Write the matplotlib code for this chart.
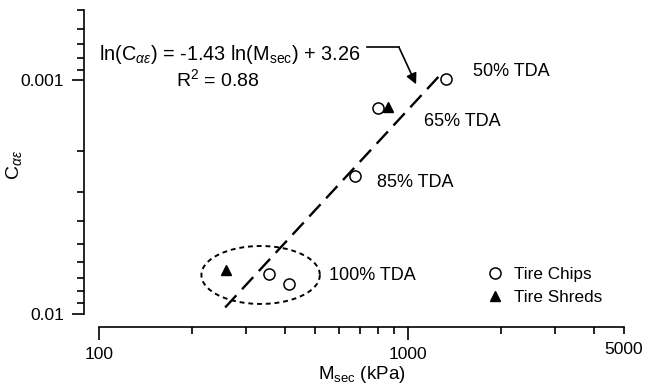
import numpy as np
import matplotlib.pyplot as plt
from matplotlib.ticker import FixedLocator, NullFormatter, FixedFormatter

plt.rcParams['font.family'] = ['Liberation Sans', 'DejaVu Sans']
plt.rcParams['mathtext.fontset'] = 'custom'
plt.rcParams['mathtext.rm'] = 'Liberation Sans'
plt.rcParams['mathtext.it'] = 'Liberation Sans:italic'
plt.rcParams['font.size'] = 12

# data
chipsM = [1330, 800, 673, 356, 411]
chipsC = [0.00099, 0.00131, 0.00256, 0.00673, 0.00743]
shredsM = [861, 258]
shredsC = [0.0013, 0.00647]

# fitted line ln(C) = slope*ln(M) + intercept
fitSlope = -1.43
fitIntercept = 3.26
fitRange = [256, 1300]

tdaLabels = ['50% TDA', '65% TDA', '85% TDA', '100% TDA']
tdaM = [1626, 1127, 793, 554]
tdaC = [0.000915, 0.0015, 0.00274, 0.00687]

fig = plt.figure(figsize=(6.46, 3.91), dpi=100)
ax = fig.add_axes([99/646, 1-314/391, 525/646, 304/391])

ax.set_xscale('log')
ax.set_yscale('log')
ax.set_xlim(100, 5000)
ax.set_ylim(0.01, 0.0005)  # inverted

#fit line
fitX = np.array(fitRange, dtype=float)
fitY = np.exp(fitSlope*np.log(fitX) + fitIntercept)
ax.plot(fitX, fitY, color='black', lw=1.7, dashes=(7, 3.5))

#points
ax.plot(chipsM, chipsC, 'o', mfc='white', mec='black', ms=8, mew=1.1, label='Tire Chips', ls='none')
ax.plot(shredsM, shredsC, '^', color='black', ms=7.5, label='Tire Shreds', ls='none')

#dotted ellipse around 100% TDA, drawn in log space
t = np.linspace(0, 2*np.pi, 200)
ex = 10**(2.523 + 0.1916*np.cos(t))
ey = 10**(-2.167 + 0.124*np.sin(t))
ax.plot(ex, ey, color='black', lw=1.4, dashes=(2.5, 2))

for lab, m, c in zip(tdaLabels, tdaM, tdaC):
    ax.text(m, c, lab, ha='left', va='center', fontsize=13)

#equation with arrow
ax.text(264, 0.000773, r'ln(C$_{\alpha\varepsilon}$) = -1.43 ln(M$_{\rm sec}$) + 3.26',
        ha='center', va='center', fontsize=14.3)
ax.text(243, 0.00099, r'R$^2$ = 0.88', ha='center', va='center', fontsize=14)
ax.plot([735, 935], [0.000722, 0.000722], color='black', lw=1.2)
ax.annotate('', xy=(1062, 0.00104), xytext=(935, 0.000722),
            arrowprops=dict(arrowstyle='-|>', color='black', lw=1.2, mutation_scale=16, shrinkA=0, shrinkB=0))

#axes style
for s in ['top', 'right']:
    ax.spines[s].set_visible(False)
ax.spines['bottom'].set_position(('outward', 9))
ax.spines['left'].set_position(('outward', 11))
ax.spines['bottom'].set_linewidth(1.2)
ax.spines['left'].set_linewidth(1.2)

ax.xaxis.set_major_locator(FixedLocator([100, 1000]))
ax.xaxis.set_major_formatter(FixedFormatter(['100', '1000']))
ax.xaxis.set_minor_locator(FixedLocator([200, 300, 400, 500, 600, 700, 800, 900, 2000, 3000, 4000, 5000]))
ax.xaxis.set_minor_formatter(FixedFormatter(['', '', '', '', '', '', '', '', '', '', '', '5000']))
ax.yaxis.set_major_locator(FixedLocator([0.001, 0.01]))
ax.yaxis.set_major_formatter(FixedFormatter(['0.001', '0.01']))
ax.yaxis.set_minor_locator(FixedLocator([0.0005, 0.0006, 0.0007, 0.0008, 0.0009,
                                         0.002, 0.003, 0.004, 0.005, 0.006, 0.007, 0.008, 0.009]))
ax.yaxis.set_minor_formatter(NullFormatter())
ax.tick_params(which='major', length=9, width=1.2, labelsize=12.5)
ax.tick_params(which='minor', length=5, width=1.2, labelsize=12.5)
ax.tick_params(axis='x', which='both', pad=6)
ax.tick_params(axis='y', which='both', pad=5)

ax.set_xlabel(r'M$_{\rm sec}$ (kPa)', fontsize=13.5, labelpad=1)
ax.set_ylabel(r'C$_{\alpha\varepsilon}$', fontsize=14)
ax.yaxis.set_label_coords(-0.143, 0.49)

ax.legend(loc='upper left', bbox_to_anchor=(476/646, 1-258/391), bbox_transform=fig.transFigure,
          frameon=False, handlelength=1.2, handletextpad=0.5, labelspacing=0.5, borderpad=0,
          fontsize=12.3, numpoints=1)

fig.savefig('out.png', dpi=100)
